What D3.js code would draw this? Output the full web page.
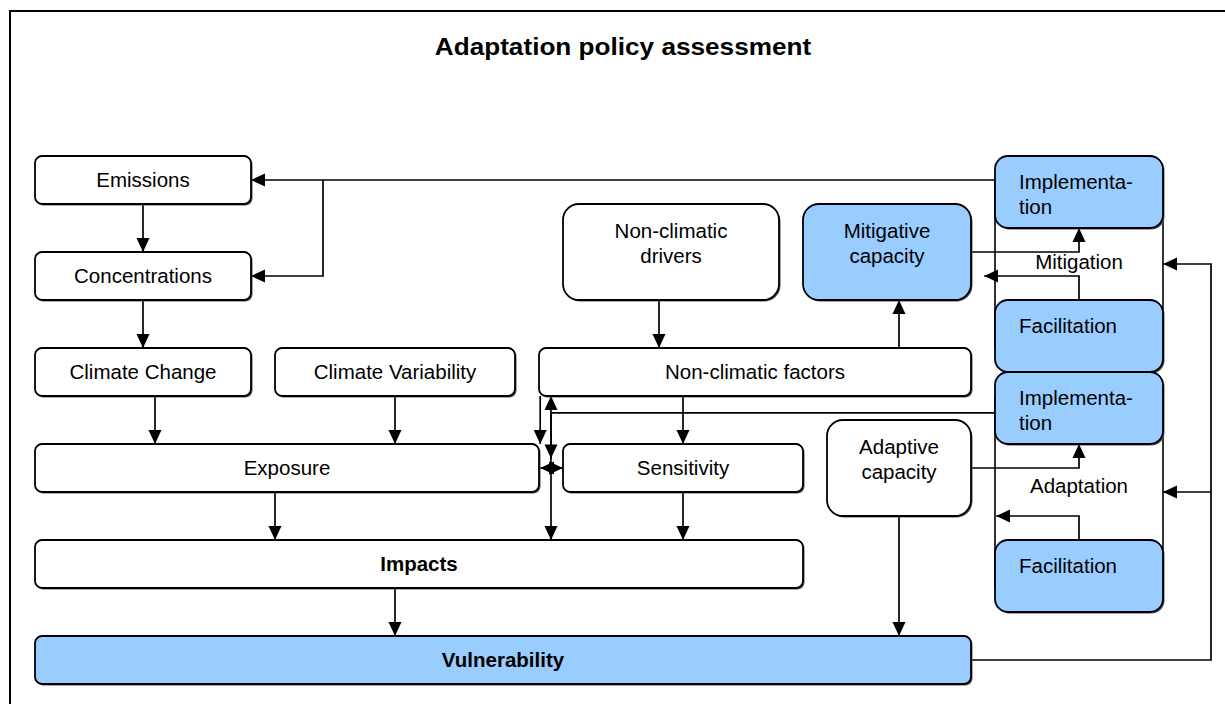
<!DOCTYPE html>
<html>
<head>
<meta charset="utf-8">
<script src="https://cdn.jsdelivr.net/npm/d3@7"></script>
<style>
  html, body { margin: 0; padding: 0; background: #fff; }
  svg { display: block; font-family: "Liberation Sans", Arial, sans-serif; }
</style>
</head>
<body>
<svg id="chart" width="1225" height="704"></svg>
<script>
// ---- Data (diagram content) ----
const title = "Adaptation policy assessment";
const nodeNames = ["Emissions", "Concentrations", "Climate Change", "Climate Variability",
  "Non-climatic factors", "Non-climatic drivers", "Mitigative capacity", "Implementation (mitigation)",
  "Facilitation (mitigation)", "Implementation (adaptation)", "Facilitation (adaptation)",
  "Exposure", "Sensitivity", "Adaptive capacity", "Impacts", "Vulnerability"];
const nodeLabels = ["Emissions", "Concentrations", "Climate Change", "Climate Variability",
  "Non-climatic factors", "Non-climatic\ndrivers", "Mitigative\ncapacity", "Implementa-\ntion",
  "Facilitation", "Implementa-\ntion", "Facilitation",
  "Exposure", "Sensitivity", "Adaptive\ncapacity", "Impacts", "Vulnerability"];
const nodeHighlighted = [false,false,false,false,false,false,true,true,true,true,true,false,false,false,false,true];
const nodeBold = [false,false,false,false,false,false,false,false,false,false,false,false,false,false,true,true];
const groupLabels = ["Mitigation", "Adaptation"];

// ---- Layout (grid units) ----
// [col0,row0,col1,row1, cornerKind, align]
const nodeLayout = [
  [0,0,9,2,"s","c"], [0,4,9,6,"s","c"], [0,8,9,10,"s","c"], [10,8,20,10,"s","c"],
  [21,8,39,10,"s","c"], [22,2,31,6,"l","c"], [32,2,39,6,"l","c"], [40,0,47,3,"m","l"],
  [40,6,47,9,"m","l"], [40,9,47,12,"m","l"], [40,16,47,19,"m","l"],
  [0,12,21,14,"s","c"], [22,12,32,14,"s","c"], [33,11,39,15,"l","c"], [0,16,32,18,"s","c"], [0,20,39,22,"s","c"]
];
// group: col0, col1, row from, row to, label col, label row
const groupLayout = [[40,47,1,8,43.5,4.4],[40,47,10,18,43.5,13.75]];
// connectors: points, arrow at end
const connectors = [
  [[[4.5,2],[4.5,4]], true],
  [[[4.5,6],[4.5,8]], true],
  [[[5,10],[5,12]], true],
  [[[15,10],[15,12]], true],
  [[[26,6],[26,8]], true],
  [[[36,8],[36,6]], true],
  [[[27,10],[27,12]], true],
  [[[21.05,10],[21.05,12]], true],
  [[[40,10.7],[21.5,10.7]], false],
  [[[21.5,11],[21.5,10]], true],
  [[[21.5,10.7],[21.5,16]], true],
  [[[21.5,11],[21.5,12.6]], true],
  [[[21.5,13],[21.05,13]], true],
  [[[21.5,13],[22,13]], true],
  [[[10,14],[10,16]], true],
  [[[27,14],[27,16]], true],
  [[[15,18],[15,20]], true],
  [[[36,15],[36,20]], true],
  [[[39,13],[43.5,13],[43.5,12]], true],
  [[[43.5,16],[43.5,15],[40.05,15]], true],
  [[[39,4],[43.5,4],[43.5,3]], true],
  [[[43.5,6],[43.5,5],[39.55,5]], true],
  [[[40,1],[9,1]], true],
  [[[12,1],[12,5],[9,5]], true],
  [[[39,21],[49,21],[49,4.5],[47,4.5]], true],
  [[[49,14],[47,14]], true]
];

// ---- Scales ----
const x = d3.scaleLinear().domain([0, 1]).range([35, 59]);
const y = d3.scaleLinear().domain([0, 1]).range([156, 180]);
const radius = {s: 7, m: 13, l: 16};

const svg = d3.select("#chart");

// Marker
const defs = svg.append("defs");
defs.append("marker").attr("id", "arr")
  .attr("viewBox", "0 0 14 14").attr("refX", 14).attr("refY", 7)
  .attr("markerWidth", 14).attr("markerHeight", 14)
  .attr("markerUnits", "userSpaceOnUse").attr("orient", "auto")
  .append("path").attr("d", "M0,0.5 L14,7 L0,13.5 Z").attr("fill", "#000");

// Outer frame
svg.append("rect").attr("x", 10).attr("y", 11).attr("width", 1240).attr("height", 720)
  .attr("fill", "none").attr("stroke", "#000").attr("stroke-width", 2);

// Title
svg.append("text").attr("x", 623).attr("y", 55).attr("text-anchor", "middle")
  .attr("font-size", 24).attr("font-weight", "bold").attr("fill", "#000")
  .attr("transform", "translate(623,0) scale(1.09,1) translate(-623,0)")
  .text(title);

// Group enclosure side lines
const gl = svg.selectAll("g.group").data(groupLayout).join("g").attr("class", "group");
gl.append("line").attr("x1", d => x(d[0])).attr("x2", d => x(d[0]))
  .attr("y1", d => y(d[2])).attr("y2", d => y(d[3]))
  .attr("stroke", "#000").attr("stroke-width", 1.6);
gl.append("line").attr("x1", d => x(d[1])).attr("x2", d => x(d[1]))
  .attr("y1", d => y(d[2])).attr("y2", d => y(d[3]))
  .attr("stroke", "#000").attr("stroke-width", 1.6);
gl.append("text")
  .attr("x", d => x(d[4])).attr("y", d => y(d[5]) + 7)
  .attr("text-anchor", "middle").attr("font-size", 20.5).attr("fill", "#000")
  .text((d, i) => groupLabels[i]);

// Connectors
const line = d3.line().x(p => x(p[0])).y(p => y(p[1]));
svg.selectAll("path.conn").data(connectors).join("path").attr("class", "conn")
  .attr("d", d => line(d[0]))
  .attr("fill", "none").attr("stroke", "#000").attr("stroke-width", 1.7)
  .attr("marker-end", d => d[1] ? "url(#arr)" : null);

// Nodes
const nodes = nodeNames.map((n, i) => ({name: n, label: nodeLabels[i], hi: nodeHighlighted[i], bold: nodeBold[i], lay: nodeLayout[i]}));
const g = svg.selectAll("g.node").data(nodes).join("g").attr("class", "node");

// shadow
g.append("rect")
  .attr("x", d => x(d.lay[0]) + 1.5).attr("y", d => y(d.lay[1]) + 1.5)
  .attr("width", d => x(d.lay[2]) - x(d.lay[0])).attr("height", d => y(d.lay[3]) - y(d.lay[1]))
  .attr("rx", d => radius[d.lay[4]]).attr("fill", "#555");
g.append("rect")
  .attr("x", d => x(d.lay[0])).attr("y", d => y(d.lay[1]))
  .attr("width", d => x(d.lay[2]) - x(d.lay[0])).attr("height", d => y(d.lay[3]) - y(d.lay[1]))
  .attr("rx", d => radius[d.lay[4]])
  .attr("fill", d => d.hi ? "#99CCFF" : "#fff").attr("stroke", "#000").attr("stroke-width", 1.8);

g.each(function(d) {
  const lines = d.label.split("\n");
  const fs = 20.5;
  const lh = 25;
  const x0 = x(d.lay[0]), x1 = x(d.lay[2]);
  let ty, tx, anchor;
  if (d.lay[5] === "l") {
    tx = x0 + 24; anchor = "start";
    ty = y(d.lay[1]) + 32.5;
  } else if (lines.length > 1) {
    tx = (x0 + x1) / 2; anchor = "middle";
    ty = y(d.lay[1]) + 34;
  } else {
    tx = (x0 + x1) / 2; anchor = "middle";
    const cy = (y(d.lay[1]) + y(d.lay[3])) / 2;
    ty = cy + fs * 0.36;
  }
  const t = d3.select(this).append("text")
    .attr("text-anchor", anchor).attr("font-size", fs)
    .attr("font-weight", d.bold ? "bold" : "normal").attr("fill", "#000");
  lines.forEach((l, k) => {
    t.append("tspan").attr("x", tx).attr("y", ty + k * lh).text(l);
  });
});
</script>
</body>
</html>
